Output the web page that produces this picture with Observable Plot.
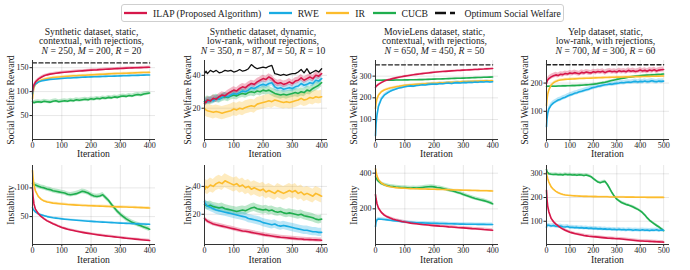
<!DOCTYPE html>
<html><head><meta charset="utf-8">
<script src="https://cdn.jsdelivr.net/npm/d3@7"></script>
<script src="https://cdn.jsdelivr.net/npm/@observablehq/plot@0.6"></script>
<style>
html,body{margin:0;padding:0;background:#fff;}
#root{position:relative;width:690px;height:270px;overflow:hidden;font-family:"Liberation Serif",serif;color:#222;background:#fff;}
.legend{position:absolute;left:121px;top:4px;height:18px;border:1px solid #cfcfcf;border-radius:3px;display:flex;align-items:center;font-size:9.7px;padding:0 2px 0 2px;box-sizing:border-box;white-space:nowrap;background:#fff;}
.legend .it{display:flex;align-items:center;margin-right:7.5px;}
.legend .it:last-child{margin-right:0;}
.legend svg{margin-right:6px;display:block;}
.title{position:absolute;text-align:center;font-size:9.7px;line-height:9.6px;white-space:nowrap;transform:translateX(-50%);}
.xl{position:absolute;font-size:9.7px;line-height:7px;white-space:nowrap;transform:translateX(-50%);}
.yl{position:absolute;font-size:9.7px;line-height:8px;white-space:nowrap;transform:translate(-50%,-50%) rotate(-90deg);}
</style></head>
<body><div id="root"></div>
<script>
// ---------- data ----------
const iters400 = [0,2,5, 10,20,30,40,50,60,70,80,90,100, 110,120,130,140,150,160,170,180,190,200, 210,220,230,240,250,260,270,280,290,300, 310,320,330,340,350,360,370,380,390,400];
const iters500 = [0,2,5, 10,20,30,40,50,60,70,80,90,100, 110,120,130,140,150,160,170,180,190,200, 210,220,230,240,250,260,270,280,290,300, 310,320,330,340,350,360,370,380,390,400, 410,420,430,440,450,460,470,480,490,500];
const xTicks400 = [0,100,200,300,400];
const xTicks500 = [0,100,200,300,400,500];

const methods = ["ILAP (Proposed Algorithm)", "RWE", "IR", "CUCB"];
const methodColors = ["#d6174a", "#19ace3", "#fcbc2c", "#1fae4e"];
const optimumLabel = "Optimum Social Welfare";

// Panel 1: Synthetic static, social welfare reward
const p1ILAP = [100,108,114, 120,126,130,133,135,136.5,137.5,138.5,139.2,140, 140.5,141,141.6,142,142.5,143,143.4,143.8,144.3,144.8, 145.2,145.5,146,146.3,146.7,147,147.3,147.7,148,148.3, 148.6,149,149.2,149.5,149.7,150,150.2,150.5,150.7,151];
const p1RWE = [95,105,112, 116,120,122,123.5,124.5,125.5,126,126.5,127,127.5, 128,128.3,128.6,129,129.3,129.6,130,130.2,130.4,130.7, 131,131.2,131.4,131.6,131.8,132,132.2,132.4,132.6,132.8, 133,133.2,133.4,133.6,133.8,134,134.2,134.4,134.6,134.8];
const p1IR = [85,98,108, 115,121,124,126,127.5,128.5,129.5,130,130.5,131, 131.5,132,132.5,133,133.3,133.7,134,134.3,134.7,135, 135.3,135.6,136,136.3,136.6,137,137.2,137.5,137.8,138, 138.2,138.5,138.7,139,139.2,139.4,139.6,139.8,140,140.2];
const p1CUCB = [79,78,77, 78,79,78,80,79,78,80,81,79,80, 81,80,82,81,83,82,83,84,83,85, 84,86,85,87,86,88,87,89,88,90, 91,90,92,91,93,94,93,95,96,97];
const p1Optimum = 160;

// Panel 2: Synthetic dynamic, social welfare reward
const p2ILAP = [23,24,23.5, 25,24.5,26,25.5,27,28,27.5,29,30,31, 30.5,32,33,32.5,34,35,34.5,36,37,38, 37.5,39,38,36,35,35.5,34.5,35,36,35, 36.5,37,38.5,37,38,39,38,40,39.5,41];
const p2RWE = [24,23.5,24.5, 24,25,24.5,26,25.5,26.5,27.5,27,28,29, 28.5,29.5,30.5,30,31,32.5,32,33,34,34.5, 34,35,35.5,33,32,32.5,31.5,32,32.5,32, 33,33.5,35,34,34.5,35.5,35,37,36.5,38];
const p2IR = [20,19.5,19, 18.5,18,17.5,18,17.5,17,17.5,18,18.5,19.5, 19,20,19.5,20.5,21,21.5,21,22.5,23,23.5, 24,24.5,24,25,24.5,24,23.5,24,23.5,24, 24.5,25,26,25,25.5,26.5,26,27,26.5,27];
const p2CUCB = [24,23.5,24.5, 25,24.5,25.5,26,25.5,26.5,27,26.5,27.5,28, 27.5,28.5,29,28.5,29.5,30,29.5,30.5,30,31, 30.5,31,30,29,28.5,28,28.5,28,28.5,29, 29.5,29,30,29.5,31,30.5,32,33,34,35.5];
const p2Optimum = [42,41.5,42.5, 41,43,42,43,41.5,42,43,42.5,43,42, 42.5,43.5,42.5,43,44,46.5,45,44,44.5,45, 44.5,45.5,46,41,40.5,40,40.5,40,40.5,41, 41,42,43.5,41.5,44,41,42,43,42,44];

// Panel 3: MovieLens, social welfare reward
const p3ILAP = [248,252,256, 262,270,277,282,285,289,292,295,297.5,300, 302,304,306,308,310,311.5,313,314.5,316,317.5, 319,320,321,322,323,324,325,326,326.5,327.5, 328,329,329.5,330.5,331,332,332.5,333.5,334,335];
const p3RWE = [25,80,120, 160,195,212,222,230,236,241,245,248,251, 253,255,254,257,258,260,259,262,263,264, 263,266,265,267,268,266,269,270,268,271, 270,272,271,273,272,274,273,275,273,274];
const p3IR = [150,175,195, 212,228,236,241,245,248,251,253,255.5,257.5, 259,260,261,262,263,264,265,266,266.5,267.5, 268,269,269.5,270,271,271.5,272,273,273.5,274.5, 275,275.5,276,276.5,277,277.5,278,278,278.5,279];
const p3CUCB = [281,281,281, 281,281,281.5,281,281.5,281.5,282,282,282,282.5, 282.5,283,283,283.5,284,284,284.5,285,285.5,286, 286.5,287,287.5,288,288.5,289,289.5,290,290.5,291, 291.5,292,292.5,293,293.5,294,294.5,295,295.5,296];
const p3Optimum = 352;

// Panel 4: Yelp, social welfare reward
const p4ILAP = [198,205,211, 216,222,226,229,227,231,230,234,232,236, 234,237,235,233,238,236,239,237,236,240, 238,241,239,242,237,241,243,240,242,239, 244,241,243,240,245,242,244,241,243,246, 243,245,242,246,244,247,243,246,247,248];
const p4RWE = [45,72,92, 108,122,130,135,140,143,147,150,154,158, 160,164,166,169,171,174,176,178,182,184, 186,189,190,192,194,195,197,196,198,199, 200,202,201,203,204,203,205,206,204,206, 205,207,205,206,208,206,205,207,206,207];
const p4IR = [120,140,160, 176,193,201,206,209,211,212,213,213.5,214, 214.5,215,215.5,216,216.3,216.6,217,217.3,217.6,218, 218.3,218.6,219,219.3,219.6,220,220.3,220.6,220.8,221, 221.2,221.4,221.6,221.8,222,222.2,222.4,222.6,222.8,223, 223.2,223.4,223.6,223.8,224,224.2,224.4,224.6,224.8,225];
const p4CUCB = [188,188,188.5, 188.5,189,189,189,189.5,189.5,190,190,190.5,190.5, 191,191,191.5,192,192.5,193,193.5,194,195,196, 197,198.5,200,201.5,203,205,207,209,211,213, 214.5,216,217.5,219,220.5,222,223,224,225,226, 227,227.5,228,228.5,229,229.5,230,230.5,231,232];
const p4Optimum = 265;

// Panel 5: Synthetic static, instability
const p5ILAP = [100,85,72, 63,55,50,46,42.5,40,37.5,35.5,33,31, 29.5,28,26.8,25.7,24.6,23.5,22.5,21.6,20.8,20, 19.2,18.5,17.8,17.1,16.5,15.9,15.3,14.7,14.1,13.5, 12.9,12.3,11.8,11.3,10.8,10.3,9.8,9.3,8.9,8.5];
const p5RWE = [66,63,61, 58,55,53,51.5,50,49,48,47.3,46.6,46, 45.4,44.9,44.4,44,43.6,43.2,42.8,42.4,42,41.6, 41.3,41,40.7,40.4,40.1,39.8,39.5,39.2,38.9,38.6, 38.4,38.2,38,37.8,37.6,37.4,37.2,37,36.8,36.6];
const p5IR = [130,118,105, 95,85,80,77,75.5,74.5,73.5,73,72.5,72, 71.5,71,70.7,70.4,70,69.7,69.4,69.2,69,68.8, 68.6,68.4,68.2,68,67.8,67.6,67.4,67.2,67,67, 66.8,66.6,66.4,66.2,66,65.8,65.6,65.4,65.2,65];
const p5CUCB = [108,107,106, 105,103,101,100,98,97,95,94,93,92, 91,89,88,89,90,92,94,93,91,88, 86,85,86,88,83,78,71,65,59,54, 50,46,43,40,38,36,34,32,30,28];

// Panel 6: Synthetic dynamic, instability
const p6ILAP = [17,16.5,16, 15,14,13,12.5,12,11.5,11,10.5,10,9.5, 9,8.5,8,7.8,7.5,7,6.6,6.2,5.8,5.4, 5,4.7,4.4,4.1,3.8,3.5,3.3,3.1,2.9,2.7, 2.5,2.3,2.2,2,1.9,1.8,1.7,1.6,1.5,1.4];
const p6RWE = [29,28,27, 26,25,24,23,22.5,22,21.5,21,20.5,20, 19.5,19,18.5,18,17,16.5,16,15.5,15,14, 13.5,13,12.5,13,12,11.5,12,11.5,11,10.5, 10,9.5,9,8.5,8.5,8,7.5,7.5,7,7];
const p6IR = [39,38,40, 39,41,40,42,43,42,44,43,42,41, 42,40,41,39,40,38,39,38,37,38, 36,37,36,35,37,36,35,36,37,36, 37,35,36,34,35,34,33,35,34,33];
const p6CUCB = [27,27.5,26.5, 26,26.5,25.5,25,24.5,25,24,23.5,23,22.5, 22,22.5,23,22.5,23.5,24.5,25,24,23.5,23, 23.5,22.5,23,22,21.5,22,21,20.5,21,20.5, 20,19.5,20,19,18.5,18,17.5,16.5,16,16.5];

// Panel 7: MovieLens, instability
const p7ILAP = [280,255,230, 205,180,165,155,148,142,137,133,129,126, 123,120,118,116,114,112,110.5,109,107.5,106, 104.5,103,102,100.5,99,98,96.5,95,94,93, 92,90.5,89,88,87,85.5,84,83,81.5,80];
const p7RWE = [100,125,138, 143,142,140,138,136,134,132,130,128,126, 125,124,123,122,121.5,121,120.5,120,119.5,119, 118.5,118,117.5,117,116.5,116,115.5,115,114.5,114, 113.8,113.6,113.4,113.2,113,112.8,112.6,112.4,112.2,112];
const p7IR = [425,405,385, 365,345,335,328,324,321,319,317,316,315, 314,313.5,313,312.5,312,311.5,311,310.5,310,309.5, 309,308.5,308,307.5,307,306.5,306,305.5,305,304.5, 304,303.5,303,302.5,302,301.5,301,301,300.5,300];
const p7CUCB = [380,372,365, 355,342,335,330,327,325,322,321,320,319, 318,317,318,316,318,320,322,324,325,323, 320,318,314,310,305,301,297,292,287,281, 275,269,263,258,254,250,246,241,235,228];

// Panel 8: Yelp, instability
const p8ILAP = [230,195,165, 140,112,98,88,80,73,67,62,58,54, 51,48,46,44,42,40,38.5,37,36,35, 34,33,32,31,30,29,28.5,28,27,26.5, 26,25,24,23,22,21,20,19,18,17, 16.5,16,15.5,15,14.5,14,13.5,13,12.5,12];
const p8RWE = [75,82,84, 83,80,82,79,78,80,77,76,78,74, 75,73,74,72,73,71,72,70,71,69, 70,68,69,67,68,66,67,65,66,64, 66,64,65,63,65,64,62,64,63,62, 64,62,63,61,63,62,64,61,63,62];
const p8IR = [305,292,280, 265,245,234,226,220,216,213,211,209.5,208.5, 207.5,207,206.5,206,205.5,205,205,204.5,204.5,204, 204,203.5,203.5,203,203,203,202.5,202.5,202.5,202, 202,202,202,201.5,201.5,201.5,201.5,201,201,201, 201,201,200.5,200.5,200.5,200.5,200.5,200.5,200.5,200.5];
const p8CUCB = [318,310,305, 300,298,297,298,296,297,295,298,296,297, 295,296,294,296,295,293,295,292,288,280, 272,265,262,266,268,255,238,220,205,193, 186,179,175,171,168,164,160,155,150,144, 136,126,114,104,96,89,82,76,68,60];

// band half-widths (ILAP, RWE, IR, CUCB)
const spreads = [[2.5,2,2,4],[2,2,4,2.5],[3,7,4,2],[9,8,4,3],[2,1.5,2,4],[1.5,3,5,3],[8,8,4,10],[6,8,3,6]];

const yDomains = [[0,165],[1,49],[8,372],[0,280],[1.4,139],[-1.7,55],[0,443],[2,335]];
const yTicks = [[50,100,150],[20,40],[100,200,300],[100,200],[50,100],[20,40],[200,400],[100,200,300]];
const yLabels = ["Social Welfare Reward","Instability"];
const xLabel = "Iteration";
const titles = [
  ["Synthetic dataset, static,","contextual, with rejections,","<i>N</i> = 250, <i>M</i> = 200, <i>R</i> = 20"],
  ["Synthetic dataset, dynamic,","low-rank, without rejections,","<i>N</i> = 350, <i>n</i> = 87, <i>M</i> = 50, <i>R</i> = 10"],
  ["MovieLens dataset, static,","contextual, with rejections,","<i>N</i> = 650, <i>M</i> = 450, <i>R</i> = 50"],
  ["Yelp dataset, static,","low-rank, with rejections,","<i>N</i> = 700, <i>M</i> = 300, <i>R</i> = 60"]
];

// ---------- layout ----------
const spineX = [32, 203.5, 375, 546];
const rowTop = [56, 161];
const ML = 30, MR = 4, MT = 4, MB = 18, FW = 123, FH = 79;

const panels = [
  {col:0,row:0,xs:iters400,xmax:400,xt:xTicks400,series:[p1ILAP,p1RWE,p1IR,p1CUCB],opt:p1Optimum},
  {col:1,row:0,xs:iters400,xmax:400,xt:xTicks400,series:[p2ILAP,p2RWE,p2IR,p2CUCB],opt:p2Optimum},
  {col:2,row:0,xs:iters400,xmax:400,xt:xTicks400,series:[p3ILAP,p3RWE,p3IR,p3CUCB],opt:p3Optimum},
  {col:3,row:0,xs:iters500,xmax:500,xt:xTicks500,series:[p4ILAP,p4RWE,p4IR,p4CUCB],opt:p4Optimum},
  {col:0,row:1,xs:iters400,xmax:400,xt:xTicks400,series:[p5ILAP,p5RWE,p5IR,p5CUCB],opt:null},
  {col:1,row:1,xs:iters400,xmax:400,xt:xTicks400,series:[p6ILAP,p6RWE,p6IR,p6CUCB],opt:null},
  {col:2,row:1,xs:iters400,xmax:400,xt:xTicks400,series:[p7ILAP,p7RWE,p7IR,p7CUCB],opt:null},
  {col:3,row:1,xs:iters500,xmax:500,xt:xTicks500,series:[p8ILAP,p8RWE,p8IR,p8CUCB],opt:null}
];

const root = document.getElementById("root");

// legend
const legend = document.createElement("div");
legend.className = "legend";
const sw = (color, dash) => `<svg width="23" height="6"><line x1="0" y1="3" x2="23" y2="3" stroke="${color}" stroke-width="2.3"${dash ? ` stroke-dasharray="${dash}"` : ""}/></svg>`;
let lh = "";
methods.forEach((m,i) => { lh += `<span class="it">${sw(methodColors[i])}<span>${m}</span></span>`; });
lh += `<span class="it">${sw("#111","11,4,5,20")}<span>${optimumLabel}</span></span>`;
legend.innerHTML = lh;
root.appendChild(legend);

panels.forEach((p, idx) => {
  const order = [3,2,1,0];
  const dom = yDomains[idx];
  const rows = order.map(k => ({k, rows: p.xs.map((x,i) => ({x, y: p.series[k][i], lo: p.series[k][i] - spreads[idx][k], hi: p.series[k][i] + spreads[idx][k]}))}));
  const marks = [];
  rows.forEach(d => marks.push(Plot.areaY(d.rows, {x:"x", y1:"lo", y2:"hi", fill: methodColors[d.k], fillOpacity: 0.3, clip: true})));
  if (Array.isArray(p.opt)) {
    marks.push(Plot.lineY(p.xs.map((x,i) => ({x, y: p.opt[i]})), {x:"x", y:"y", stroke:"#111", strokeWidth:1.3}));
  }
  rows.forEach(d => marks.push(Plot.lineY(d.rows, {x:"x", y:"y", stroke: methodColors[d.k], strokeWidth: 1.6})));
  if (typeof p.opt === "number") {
    marks.push(Plot.lineY([{x:0, y:p.opt},{x:p.xmax, y:p.opt}], {x:"x", y:"y", stroke:"#222", strokeWidth:1.3, strokeDasharray:"4,2.5"}));
  }
  marks.push(Plot.ruleX([0], {stroke:"#333", strokeWidth:1}));
  marks.push(Plot.ruleY([dom[0]], {stroke:"#333", strokeWidth:1}));

  const svg = Plot.plot({
    width: ML + FW + MR,
    height: MT + FH + MB,
    marginLeft: ML, marginRight: MR, marginTop: MT, marginBottom: MB,
    style: {background: "none", fontFamily: '"Liberation Serif", serif', fontSize: "8px", color: "#222", overflow: "visible"},
    x: {domain: [0, p.xmax * 1.05], ticks: p.xt, tickSize: 2.5, tickPadding: 0, tickFormat: d => String(d), label: null, grid: true},
    y: {domain: dom, ticks: yTicks[idx], tickSize: 2.5, tickPadding: 1.5, tickFormat: d => String(d), label: null, grid: true},
    marks
  });
  svg.style.position = "absolute";
  svg.style.left = (spineX[p.col] - ML) + "px";
  svg.style.top = rowTop[p.row] + "px";
  root.appendChild(svg);

  const fx = spineX[p.col], fy = rowTop[p.row] + MT;
  // x label
  const xl = document.createElement("div");
  xl.className = "xl";
  xl.textContent = xLabel;
  xl.style.left = (fx + FW/2) + "px";
  xl.style.top = (p.row === 0 ? 150.4 : 256.4) + "px";
  root.appendChild(xl);
  // y label
  const yl = document.createElement("div");
  yl.className = "yl";
  yl.textContent = yLabels[p.row];
  const maxTick = Math.max(...yTicks[idx]);
  const off = String(maxTick).length >= 3 ? 21 : 16;
  yl.style.left = (fx - off) + "px";
  yl.style.top = (fy + FH/2) + "px";
  root.appendChild(yl);
  // title
  if (p.row === 0) {
    const t = document.createElement("div");
    t.className = "title";
    t.innerHTML = titles[p.col].join("<br>");
    t.style.left = (fx + FW/2 - 2) + "px";
    t.style.top = "26.6px";
    root.appendChild(t);
  }
});
</script>
</body></html>
